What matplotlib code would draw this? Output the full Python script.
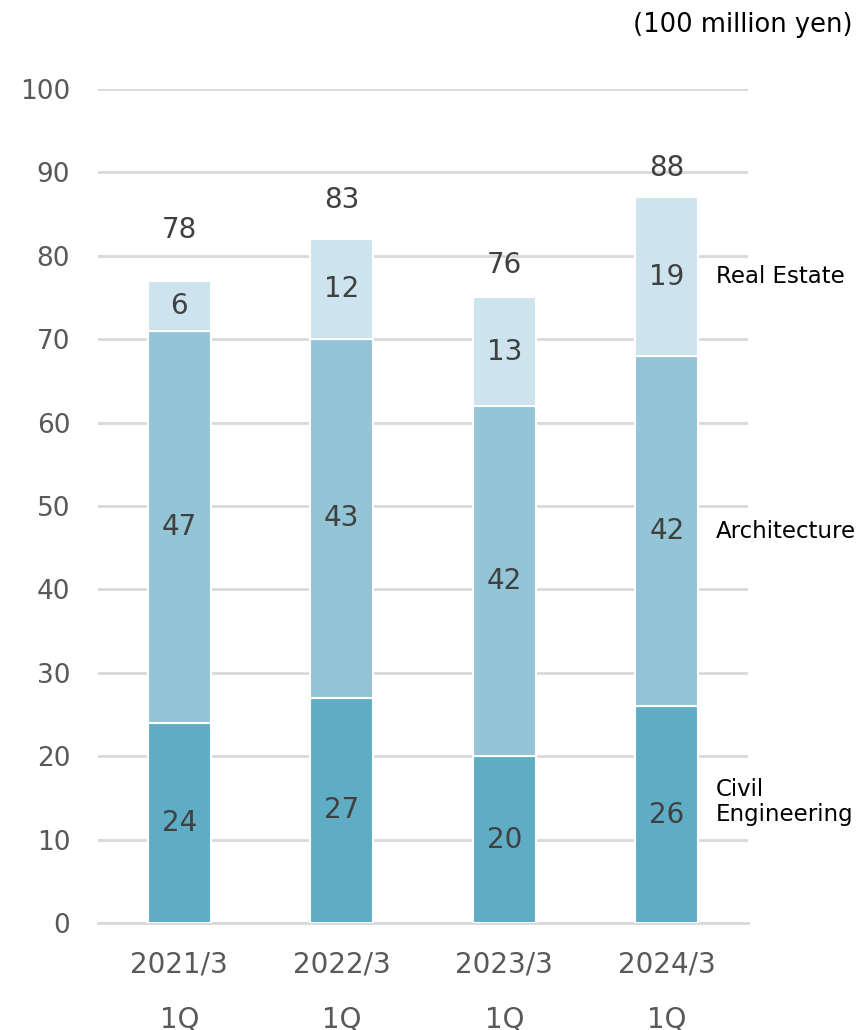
import numpy as np
import matplotlib.pyplot as plt

# ----- data -----------------------------------------------------------------
periods = ["2021/3\n1Q", "2022/3\n1Q", "2023/3\n1Q", "2024/3\n1Q"]
civil = [24, 27, 20, 26]
architecture = [47, 43, 42, 42]
real_estate = [6, 12, 13, 19]
totals = [78, 83, 76, 88]
series_names = ["Civil\nEngineering", "Architecture", "Real Estate"]

# ----- style ------------------------------------------------------------------
colors = ["#5FACC5", "#93C5D6", "#CDE4EE"]
text_gray = "#595959"
value_gray = "#404040"
grid_gray = "#D9D9D9"
total_pad = [6.1, 4.7, 3.9, 3.5]

plt.rcParams["font.family"] = ["DejaVu Sans"]

fig = plt.figure(figsize=(8.59, 10.30), dpi=100)
ax = fig.add_axes([0.1141, 0.1039, 0.7567, 0.8097])

x = np.arange(len(periods))
width = 0.39
bottom = np.zeros(len(periods))
for vals, col in zip([civil, architecture, real_estate], colors):
    vals = np.array(vals, dtype=float)
    ax.bar(x, vals, width, bottom=bottom, color=col, edgecolor="white",
           linewidth=1.5, zorder=3)
    for xi, b, v in zip(x, bottom, vals):
        ax.text(xi, b + v / 2, f"{v:.0f}", ha="center", va="center",
                fontsize=20, color=value_gray, zorder=4)
    bottom += vals

# totals above each stack
for xi, top, tot, pad in zip(x, bottom, totals, total_pad):
    ax.text(xi, top + pad, f"{tot}", ha="center", va="center",
            fontsize=20, color=value_gray)

# series names beside the last stack
last = len(periods) - 1
seg_bottoms = [0, civil[last], civil[last] + architecture[last]]
seg_vals = [civil[last], architecture[last], real_estate[last]]
for name, b, v in zip(series_names, seg_bottoms, seg_vals):
    y = b + v / 2 + (1.5 if "\n" in name else 0)
    ax.text(3.3, y, name, ha="left", va="center", fontsize=16.5,
            color="black", linespacing=1.15)

ax.set_xlim(-0.5, 3.5)
ax.set_ylim(0, 100)
ax.set_yticks(range(0, 101, 10))
ax.set_xticks(x)
ax.set_xticklabels(periods, linespacing=2.2)
ax.tick_params(axis="y", length=0, pad=20, labelsize=19, labelcolor=text_gray)
ax.tick_params(axis="x", length=0, pad=20, labelsize=20, labelcolor=text_gray)
ax.grid(axis="y", color=grid_gray, linewidth=2, zorder=0)
ax.set_axisbelow(True)
for side in ["left", "right", "top"]:
    ax.spines[side].set_visible(False)
ax.spines["bottom"].set_color(grid_gray)
ax.spines["bottom"].set_linewidth(2)

fig.text(0.992, 0.976, "(100 million yen)", ha="right", va="center",
         fontsize=18.5, color="black")

fig.savefig("out.png", dpi=100)
